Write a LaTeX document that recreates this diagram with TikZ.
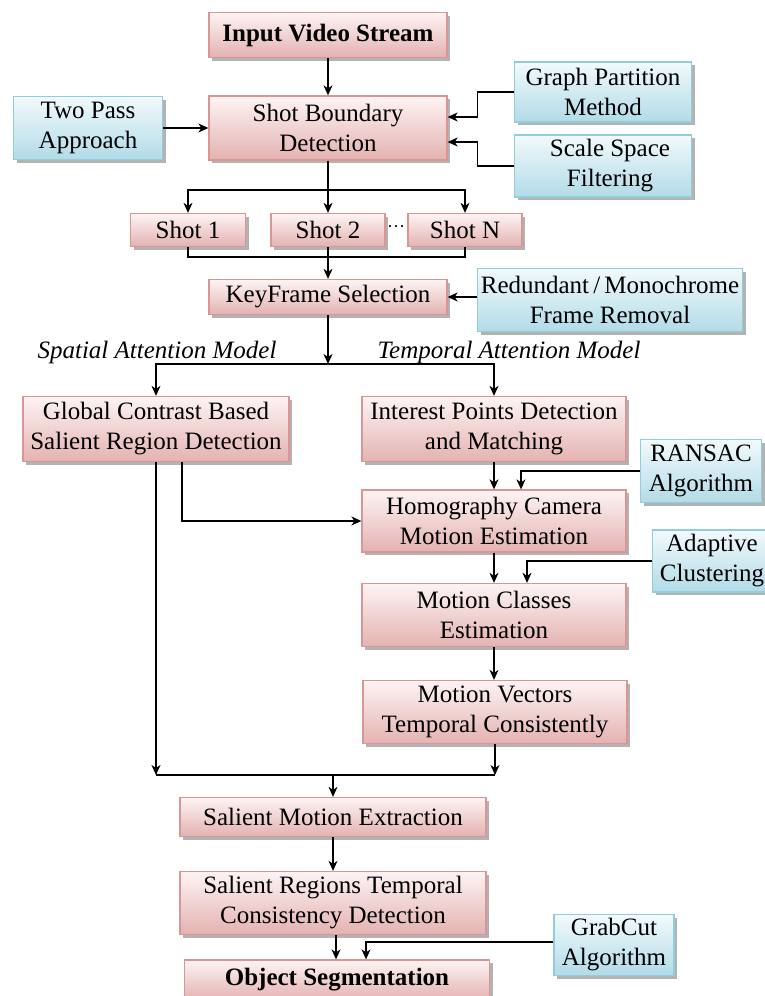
\documentclass[tikz,border=0pt]{standalone}
\usepackage{fontspec}
\setmainfont{Liberation Serif}
\usetikzlibrary{arrows.meta,shadows,calc}

\definecolor{redtop}{RGB}{254,244,244}
\definecolor{redbot}{RGB}{227,178,177}
\definecolor{redline}{RGB}{217,150,148}
\definecolor{bluetop}{RGB}{242,250,252}
\definecolor{bluebot}{RGB}{178,219,231}
\definecolor{blueline}{RGB}{146,205,220}

\tikzset{
  boxbase/.style={rectangle, inner sep=0pt, align=center, line width=1.3pt,
    font=\fontsize{25}{30}\selectfont,
    drop shadow={shadow xshift=3pt, shadow yshift=-3pt, fill=black!50, opacity=.6}},
  redbox/.style={boxbase, draw=redline, top color=redtop, bottom color=redbot},
  bluebox/.style={boxbase, draw=blueline, top color=bluetop, bottom color=bluebot},
  modellabel/.style={font=\fontsize{25}{30}\selectfont\itshape, inner sep=0pt},
  arr/.style={line width=1.1pt, -{Stealth[length=10pt,width=9pt,inset=3pt]}},
  ln/.style={line width=1.1pt}
}

\begin{document}
\begin{tikzpicture}[x=1pt,y=-1pt]
\useasboundingbox (0,0) rectangle (765,996);
\clip (0,0) rectangle (765,996);

% main pipeline boxes
\node[redbox, minimum width=238, minimum height=45] (input) at (328,35) {\textbf{Input Video Stream}};
\node[redbox, minimum width=238, minimum height=64] (sbd) at (328,128) {Shot Boundary\\Detection};
\node[bluebox, minimum width=149, minimum height=63] (twopass) at (88,128) {Two Pass\\Approach};
\node[bluebox, minimum width=177, minimum height=60] (graph) at (603,92) {Graph Partition\\Method};
\node[bluebox, minimum width=177, minimum height=62] (scale) at (603,166) {\hspace*{14pt}Scale Space\\\hspace*{14pt}Filtering};

\node[redbox, minimum width=115, minimum height=33] (shot1) at (188,230) {Shot 1};
\node[redbox, minimum width=114, minimum height=33] (shot2) at (328,230) {Shot 2};
\node[redbox, minimum width=114, minimum height=33] (shotN) at (465,230) {Shot N};
\node[font=\fontsize{18}{20}\selectfont, inner sep=0pt] (dots) at (396,229) {···};

\node[redbox, minimum width=238, minimum height=35] (key) at (328,297) {KeyFrame Selection};
\node[bluebox, minimum width=265, minimum height=63] (redund) at (610,300) {Redundant\,/\,Monochrome\\Frame Removal};

\node[modellabel] (spatial) at (157,352) {Spatial Attention Model};
\node[modellabel] (temporal) at (509,352) {Temporal Attention Model};

\node[redbox, minimum width=266, minimum height=65] (global) at (156,429) {Global Contrast Based\\Salient Region Detection};
\node[redbox, minimum width=264, minimum height=65] (interest) at (494,429) {Interest Points Detection\\and Matching};
\node[bluebox, minimum width=121, minimum height=63] (ransac) at (701,471) {RANSAC\\Algorithm};
\node[redbox, minimum width=264, minimum height=62] (homo) at (494,521) {Homography Camera\\Motion Estimation};
\node[bluebox, minimum width=119, minimum height=62] (adaptive) at (712,561) {Adaptive\\Clustering};
\node[redbox, minimum width=264, minimum height=63] (classes) at (494,615) {Motion Classes\\Estimation};
\node[redbox, minimum width=264, minimum height=63] (vectors) at (495,712) {Motion Vectors\\Temporal Consistently};

\node[redbox, minimum width=306, minimum height=39] (sme) at (333,817) {Salient Motion Extraction};
\node[redbox, minimum width=306, minimum height=63] (srt) at (333,903) {Salient Regions Temporal\\Consistency Detection};
\node[bluebox, minimum width=120, minimum height=61] (grabcut) at (614,945) {GrabCut\\Algorithm};
\node[redbox, minimum width=305, minimum height=40] (obj) at (337,980) {\textbf{Object Segmentation}};

% junction points
\coordinate (split) at (328,190);
\coordinate (merge) at (328,257);
\coordinate (fork) at (328,364);
\coordinate (join) at (333,775);
\coordinate (srtout) at ($(srt.south)+(3,0)$);

% connectors
\draw[arr] (input) -- (sbd);
\draw[arr] (twopass) -- (sbd);
\draw[arr] (graph.west) -- ++(-36,0) |- ($(sbd.east)+(0,-11)$);
\draw[arr] (scale.west) -- ++(-36,0) |- ($(sbd.east)+(0,14)$);

\draw[ln] (sbd.south) -- (split);
\draw[arr] (split) -| (shot1.north);
\draw[arr] (split) -- (shot2.north);
\draw[arr] (split) -| (shotN.north);

\draw[ln] (shot1.south) |- (merge);
\draw[ln] (shotN.south) |- (merge);
\draw[arr] (shot2.south) -- (key.north);
\draw[arr] (redund.west |- key) -- (key.east);

\draw[arr] (key.south) -- (fork);
\draw[arr] (fork) -| (global.north);
\draw[arr] (fork) -| (interest.north);

\draw[arr] (interest) -- (homo);
\draw[arr] (ransac.west) -| ($(homo.north)+(27,0)$);
\draw[arr] ($(global.south)+(26,0)$) |- (homo.west);
\draw[arr] (homo) -- (classes);
\draw[arr] (adaptive.west) -| ($(classes.north)+(33,0)$);
\draw[arr] (classes.south) -- (classes.south |- vectors.north);

\draw[arr] (global.south) -- (global.south |- join);
\draw[arr] (vectors.south) -- (vectors.south |- join);
\draw[ln] (global.south |- join) -- (vectors.south |- join);
\draw[arr] (join) -- (sme.north);

\draw[arr] (sme) -- (srt);
\draw[arr] (srtout) -- (srtout |- obj.north);
\draw[arr] ($(grabcut.west)+(0,-3)$) -| ($(obj.north)+(29,0)$);
\end{tikzpicture}
\end{document}
